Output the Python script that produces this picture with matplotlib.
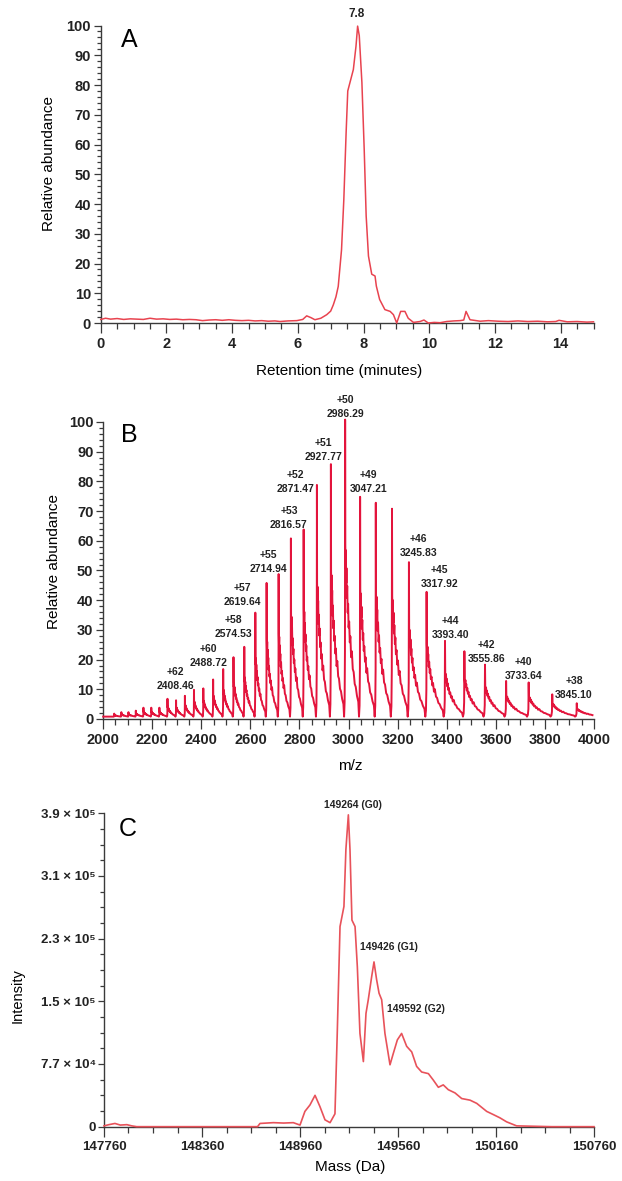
import numpy as np
import matplotlib
matplotlib.use("Agg")
import matplotlib.pyplot as plt
from matplotlib.ticker import MultipleLocator, FixedLocator

# ---------------------------------------------------
# DATA
# ---------------------------------------------------
# A: chromatogram (retention time in minutes, relative abundance)
time_a = [0.0, 0.15, 0.3, 0.5, 0.7, 0.9, 1.1, 1.3, 1.5, 1.7, 1.9, 2.1, 2.3, 2.5,
          2.7, 2.9, 3.1, 3.3, 3.5, 3.7, 3.9, 4.1, 4.3, 4.5, 4.7, 4.9, 5.1, 5.3,
          5.46, 5.7, 5.97, 6.15, 6.27, 6.4, 6.52, 6.7, 6.88, 7.0, 7.08, 7.16, 7.23,
          7.33, 7.40, 7.47, 7.52, 7.61, 7.69, 7.77, 7.82, 7.87, 7.95, 8.02, 8.08,
          8.15, 8.25, 8.35, 8.39, 8.49, 8.65, 8.81, 8.91, 9.01, 9.13, 9.26, 9.36,
          9.52, 9.72, 9.84, 9.97, 10.15, 10.33, 10.53, 10.75, 10.94, 11.05, 11.12,
          11.24, 11.55, 11.8, 12.1, 12.4, 12.7, 13.0, 13.3, 13.6, 13.85, 13.95,
          14.2, 14.5, 14.8, 15.0]
abund_a = [1.2, 1.6, 1.3, 1.5, 1.2, 1.4, 1.3, 1.2, 1.6, 1.3, 1.4, 1.2, 1.3, 1.1,
           1.2, 1.1, 0.8, 1.0, 1.1, 0.9, 1.1, 0.9, 0.8, 0.9, 0.7, 0.8, 0.6, 0.7,
           0.5, 0.7, 0.8, 1.2, 2.4, 1.8, 1.1, 1.6, 2.8, 4.0, 6.1, 8.8, 12.3,
           24.6, 41.5, 64.0, 78.0, 81.8, 85.2, 93.0, 99.8, 96.6, 80.9, 58.5, 36.0,
           22.5, 16.4, 15.8, 12.4, 7.9, 4.5, 3.9, 2.8, 0.0, 3.9, 3.9, 1.6,
           0.2, 0.5, 1.0, 0.0, 0.2, 0.1, 0.5, 0.7, 0.8, 1.0, 3.9,
           1.1, 0.6, 0.8, 0.6, 0.5, 0.7, 0.5, 0.6, 0.4, 0.5, 0.9,
           0.4, 0.5, 0.3, 0.4]

# B: charge-state envelope (m/z of each peak, relative abundance)
peak_mz = [2045, 2074, 2103, 2133, 2164, 2196, 2229, 2262, 2297, 2333, 2370,
           2408, 2448, 2489, 2531, 2575, 2620, 2666, 2715, 2765, 2817, 2871,
           2928, 2986, 3047, 3111, 3177, 3246, 3318, 3393, 3472, 3556, 3642,
           3734, 3830, 3930]
peak_height = [1.0, 1.5, 1.5, 2.0, 3.0, 3.0, 3.0, 6.0, 5.5, 7.0, 9.0,
               9.5, 12.5, 16.0, 20.0, 23.5, 35.0, 45.0, 48.0, 60.0, 63.0, 78.0,
               85.0, 100.0, 74.0, 72.0, 70.0, 52.0, 42.0, 25.5, 22.0, 17.5, 12.0,
               11.5, 7.5, 4.5]
# peak profile: offset as fraction of spacing to the next peak
shape_offset = [-0.07, -0.035, -0.012, 0.0, 0.012, 0.03, 0.05, 0.07, 0.09, 0.115,
                0.14, 0.17, 0.20, 0.23, 0.27, 0.31, 0.35, 0.40, 0.45, 0.51,
                0.57, 0.64, 0.71, 0.79, 0.88]
shape_rel = [0.0, 0.05, 0.22, 1.0, 0.58, 0.50, 0.56, 0.45, 0.50, 0.40,
             0.44, 0.35, 0.38, 0.30, 0.32, 0.25, 0.27, 0.20, 0.22, 0.16,
             0.15, 0.11, 0.10, 0.07, 0.05]
b_baseline = 0.8

label_charge = ["+62", "+60", "+58", "+57", "+55", "+53", "+52", "+51", "+50",
                "+49", "+46", "+45", "+44", "+42", "+40", "+38"]
label_mz = ["2408.46", "2488.72", "2574.53", "2619.64", "2714.94", "2816.57",
            "2871.47", "2927.77", "2986.29", "3047.21", "3245.83", "3317.92",
            "3393.40", "3555.86", "3733.64", "3845.10"]
label_x = [2296, 2428, 2529, 2569, 2674, 2757, 2784, 2897, 2986,
           3080, 3285, 3371, 3415, 3563, 3714, 3919]
label_y = [13.3, 21.2, 31.1, 41.6, 52.7, 67.8, 79.8, 90.7, 105.2,
           79.7, 58.4, 47.9, 30.5, 22.5, 16.8, 10.4]

# C: deconvoluted mass spectrum (mass in Da, intensity)
mass_c = [147760, 147790, 147827, 147860, 147900, 147930, 147960, 148300, 148700,
          148715, 148797, 148860, 148919, 148960, 148990, 149021, 149052, 149082,
          149113, 149144, 149174, 149188, 149205, 149229, 149241, 149256, 149266,
          149278, 149297, 149311, 149327, 149348, 149364, 149378, 149399, 149413,
          149429, 149444, 149460, 149480, 149511, 149531, 149556, 149582, 149613,
          149644, 149674, 149705, 149746, 149776, 149807, 149837, 149868, 149909,
          149950, 150001, 150042, 150103, 150144, 150184, 150225, 150286, 150500,
          150760]
inten_c = [1000, 2500, 4000, 2000, 2500, 1000, 0, 0, 0,
           4000, 5000, 4500, 5000, 2000, 19000, 27000, 39000, 25000,
           8500, 5000, 16000, 116000, 249000, 274000, 345000, 388000, 345000,
           257000, 249000, 199000, 116000, 81000, 141000, 158000, 187000, 205000,
           183000, 166000, 158000, 116000, 77000, 91000, 108000, 116000, 100000,
           93000, 75000, 68000, 66000, 58000, 49000, 52000, 46000, 42000,
           35000, 33000, 29000, 19000, 15000, 11000, 6000, 1000, 0,
           0]
c_xticks = [147760, 148360, 148960, 149560, 150160, 150760]
c_yticks = [0, 78000, 156000, 234000, 312000, 390000]
c_ytick_labels = ["0", "7.7 \u00d7 10\u2074", "1.5 \u00d7 10\u2075", "2.3 \u00d7 10\u2075",
                  "3.1 \u00d7 10\u2075", "3.9 \u00d7 10\u2075"]
c_ann_text = ["149264 (G0)", "149426 (G1)", "149592 (G2)"]
c_ann_x = [149285, 149505, 149670]
c_ann_y = [400000, 224000, 147000]

# ---------------------------------------------------
# STYLE
# ---------------------------------------------------
fams = ["Liberation Sans", "DejaVu Sans"]
plt.rcParams["font.family"] = fams
label_font = {"family": fams, "size": 11}
letter_font = {"family": fams, "size": 18}
spine_col = "#3a3a3a"
text_col = "#222222"

col_a = "#e8434f"
col_b = "#e3143c"
col_c = "#e8525a"


def style_axes(ax, tick_size):
    for s in ["top", "right"]:
        ax.spines[s].set_visible(False)
    for s in ["left", "bottom"]:
        ax.spines[s].set_color(spine_col)
        ax.spines[s].set_linewidth(1.0)
    ax.tick_params(which="both", direction="out", colors=spine_col, width=0.9,
                   labelcolor=text_col, labelsize=tick_size)
    ax.tick_params(axis="x", which="major", length=7, pad=3)
    ax.tick_params(axis="x", which="minor", length=4)
    ax.tick_params(axis="y", which="major", length=5, pad=2)
    ax.tick_params(axis="y", which="minor", length=3)
    for lab in ax.get_xticklabels() + ax.get_yticklabels():
        lab.set_fontweight("bold")


fig = plt.figure(figsize=(6.22, 11.81), dpi=100)

# ---------------------------------------------------
# A
# ---------------------------------------------------
ax_a = fig.add_axes([0.1619, 0.7265, 0.7923, 0.2519])
ax_a.plot(time_a, abund_a, color=col_a, linewidth=1.1, clip_on=False, zorder=3)
ax_a.set_xlim(0, 15)
ax_a.set_ylim(0, 100)
ax_a.xaxis.set_major_locator(MultipleLocator(2))
ax_a.xaxis.set_minor_locator(MultipleLocator(0.5))
ax_a.yaxis.set_major_locator(MultipleLocator(10))
ax_a.yaxis.set_minor_locator(MultipleLocator(2))
style_axes(ax_a, 10.5)
ax_a.set_ylabel("Relative abundance", **label_font)
ax_a.yaxis.set_label_coords(-0.091, 0.536)
ax_a.set_xlabel("Retention time (minutes)", **label_font)
ax_a.xaxis.set_label_coords(0.4836, -0.138)
ax_a.text(0.042, 0.99, "A", transform=ax_a.transAxes, ha="left", va="top", **letter_font)
ax_a.text(7.8, 104.0, "7.8", ha="center", va="center", fontsize=8.5,
          fontweight="bold", color=text_col)

# ---------------------------------------------------
# B
# ---------------------------------------------------
spacing = list(np.diff(peak_mz)) + [peak_mz[-1] - peak_mz[-2]]
bx = [2000]
by = [b_baseline]
for mz, h, d in zip(peak_mz, peak_height, spacing):
    for o, r in zip(shape_offset, shape_rel):
        bx.append(mz + o * d)
        by.append(b_baseline + h * r)
bx = np.array(bx)
by = np.array(by)
keep = bx <= 4000
ax_b = fig.add_axes([0.1659, 0.3912, 0.789, 0.2515])
ax_b.plot(bx[keep], by[keep], color=col_b, linewidth=1.4, clip_on=False, zorder=3)
ax_b.set_xlim(2000, 4000)
ax_b.set_ylim(0, 100)
ax_b.xaxis.set_major_locator(MultipleLocator(200))
ax_b.xaxis.set_minor_locator(MultipleLocator(50))
ax_b.yaxis.set_major_locator(MultipleLocator(10))
ax_b.yaxis.set_minor_locator(MultipleLocator(2))
style_axes(ax_b, 10.5)
ax_b.set_ylabel("Relative abundance", **label_font)
ax_b.yaxis.set_label_coords(-0.086, 0.529)
ax_b.set_xlabel("m/z", **label_font)
ax_b.xaxis.set_label_coords(0.503, -0.135)
ax_b.text(0.036, 0.997, "B", transform=ax_b.transAxes, ha="left", va="top", **letter_font)
for ch, mz, x, y in zip(label_charge, label_mz, label_x, label_y):
    ax_b.text(x, y, ch + "\n" + mz, ha="center", va="center", fontsize=7.5,
              fontweight="bold", color=text_col, linespacing=1.5, clip_on=False)

# ---------------------------------------------------
# C
# ---------------------------------------------------
ax_c = fig.add_axes([0.1672, 0.0460, 0.7878, 0.2654])
ax_c.plot(mass_c, inten_c, color=col_c, linewidth=1.2, clip_on=False, zorder=3)
ax_c.set_xlim(147760, 150760)
ax_c.set_ylim(0, 390000)
ax_c.xaxis.set_major_locator(FixedLocator(c_xticks))
ax_c.xaxis.set_minor_locator(MultipleLocator(150, offset=10))
ax_c.set_xticklabels([str(v) for v in c_xticks])
ax_c.yaxis.set_major_locator(FixedLocator(c_yticks))
ax_c.yaxis.set_minor_locator(MultipleLocator(19500))
ax_c.set_yticklabels(c_ytick_labels)
style_axes(ax_c, 9.5)
ax_c.tick_params(axis="y", which="major", length=4)
ax_c.set_ylabel("Intensity", family=fams, size=10.5)
ax_c.yaxis.set_label_coords(-0.161, 0.417)
ax_c.set_xlabel("Mass (Da)", **label_font)
ax_c.xaxis.set_label_coords(0.502, -0.106)
ax_c.text(0.03, 0.987, "C", transform=ax_c.transAxes, ha="left", va="top", **letter_font)
for t, x, y in zip(c_ann_text, c_ann_x, c_ann_y):
    ax_c.text(x, y, t, ha="center", va="center", fontsize=7.5, fontweight="bold",
              color=text_col, clip_on=False)

fig.savefig("out.png", dpi=100)
